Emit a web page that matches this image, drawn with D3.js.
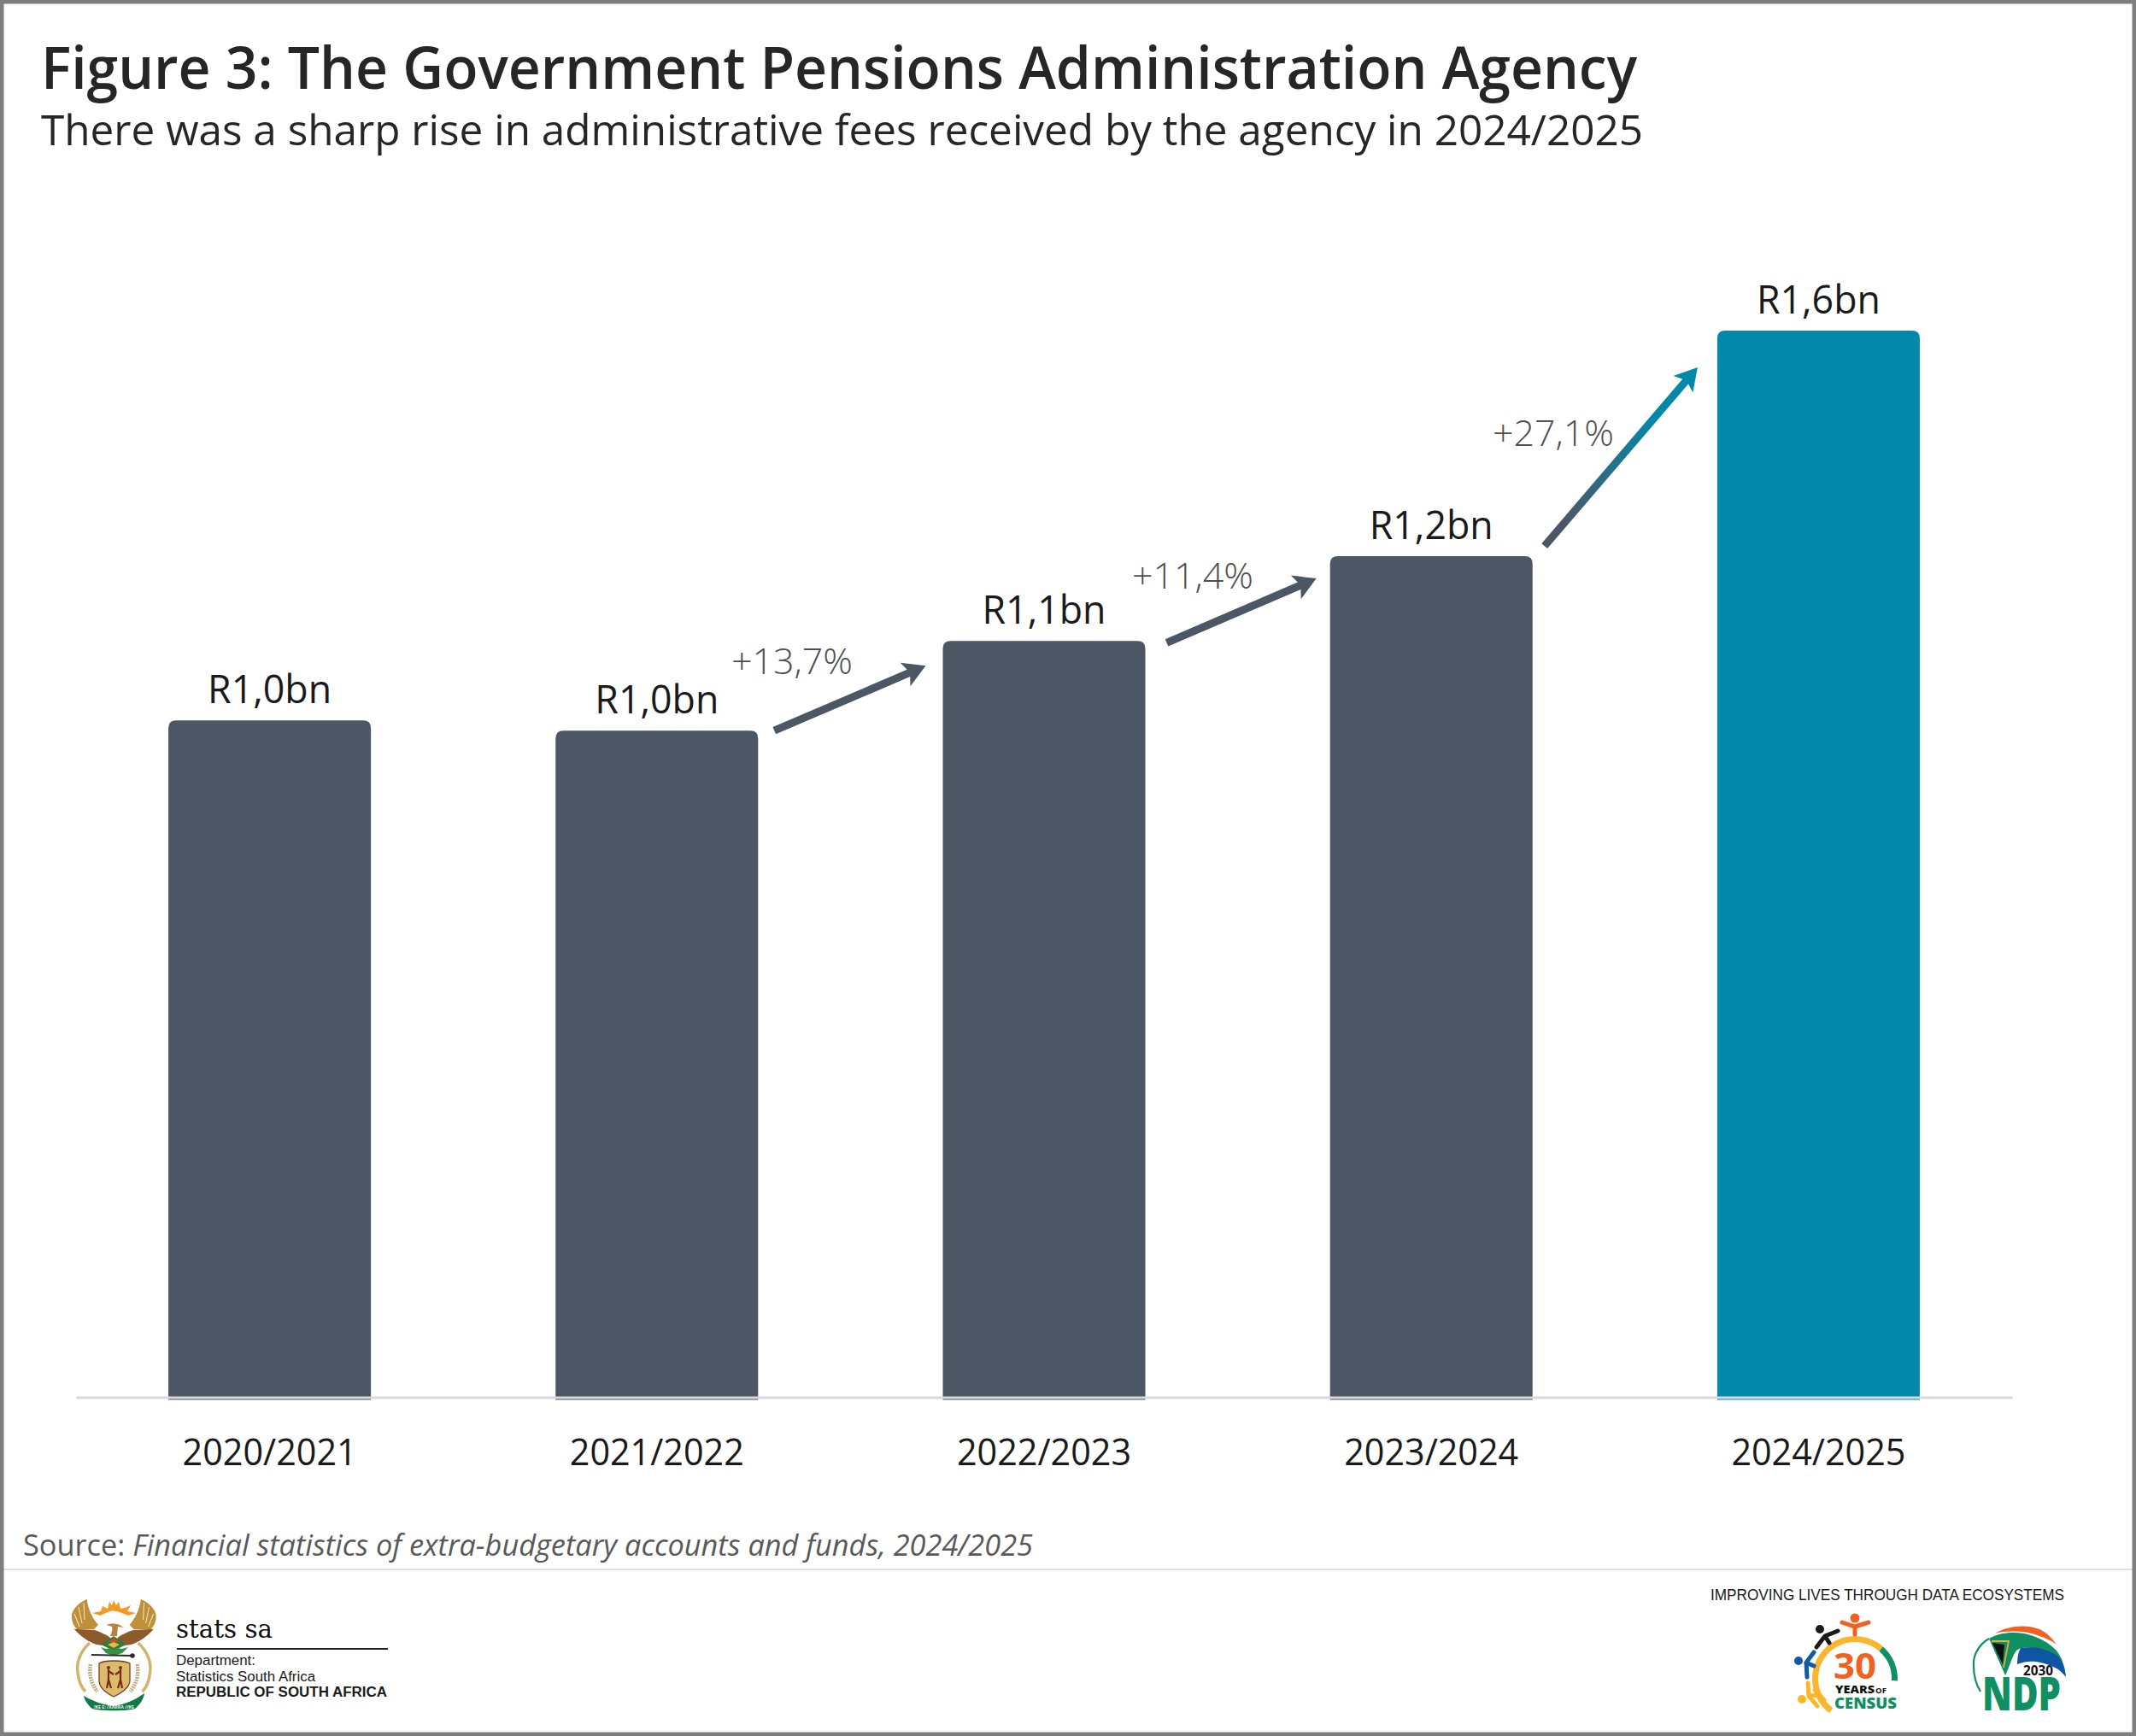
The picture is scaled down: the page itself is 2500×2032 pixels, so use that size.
<!DOCTYPE html>
<html>
<head>
<meta charset="utf-8">
<script src="https://d3js.org/d3.v7.min.js"></script>
<style>
  body { margin: 0; background: #fff; }
  svg { display: block; }
  text { font-family: "Open Sans", sans-serif; }
</style>
</head>
<body>
<div id="chart"></div>
<script>
// values (R billion)
var years = ["2020/2021", "2021/2022", "2022/2023", "2023/2024", "2024/2025"];
var fees = [0.99, 0.975, 1.106, 1.23, 1.56];
var feeLabels = ["R1,0bn", "R1,0bn", "R1,1bn", "R1,2bn", "R1,6bn"];
var changeLabels = ["+13,7%", "+11,4%", "+27,1%"];

var width = 2500, height = 2032;
var grey = "#4d5665", teal = "#0289a9";

var svg = d3.select("#chart").append("svg")
    .attr("width", width)
    .attr("height", height);

svg.append("rect").attr("width", width).attr("height", height).attr("fill", "#fff");

// stretch text so it fills the same width as in the original
function fit(sel, w) {
    return sel.attr("textLength", w).attr("lengthAdjust", "spacingAndGlyphs");
}

// title block
fit(svg.append("text").attr("x", 48).attr("y", 103.5)
    .attr("font-size", 68).attr("font-weight", 600).attr("fill", "#262626")
    .text("Figure 3: The Government Pensions Administration Agency"), 1868);
fit(svg.append("text").attr("x", 48).attr("y", 170)
    .attr("font-size", 50).attr("fill", "#262626")
    .text("There was a sharp rise in administrative fees received by the agency in 2024/2025"), 1875);

// scales
var x = d3.scaleBand().domain(years).range([89, 2355]).paddingInner(0.477).paddingOuter(0.2385);
var y = d3.scaleLinear().domain([0, 1.56]).range([1635.5, 387]);

function barPath(d, i) {
    var l = x(years[i]), r = l + x.bandwidth(), t = y(d), b = y(0) + 3, c = 9;
    return "M" + l + "," + b + "V" + (t + c) + "Q" + l + "," + t + " " + (l + c) + "," + t +
        "H" + (r - c) + "Q" + r + "," + t + " " + r + "," + (t + c) + "V" + b + "Z";
}

svg.append("g").selectAll("path").data(fees).enter().append("path")
    .attr("d", barPath)
    .attr("fill", function(d, i) { return i === 4 ? teal : grey; });

// value labels
svg.append("g").selectAll("text").data(fees).enter().append("text")
    .attr("x", function(d, i) { return x(years[i]) + x.bandwidth() / 2; })
    .attr("y", function(d) { return y(d) - 20.5; })
    .attr("text-anchor", "middle")
    .attr("font-size", 46)
    .attr("fill", "#1a1a1a")
    .attr("textLength", 145)
    .attr("lengthAdjust", "spacingAndGlyphs")
    .text(function(d, i) { return feeLabels[i]; });

// axis
var axis = svg.append("g")
    .attr("transform", "translate(0,1635.5)")
    .call(d3.axisBottom(x).tickSize(0).tickPadding(48.5).tickSizeOuter(0));
axis.select(".domain").attr("stroke", "#d8d8dd").attr("stroke-width", 3);
axis.selectAll("text")
    .attr("font-size", 43)
    .attr("fill", "#1a1a1a")
    .attr("font-family", '"Open Sans", sans-serif')
    .attr("textLength", 204)
    .attr("lengthAdjust", "spacingAndGlyphs");

// growth arrows, tied to the bars they join
var defs = svg.append("defs");
var grad = defs.append("linearGradient").attr("id", "arrowGrad")
    .attr("gradientUnits", "userSpaceOnUse")
    .attr("x1", 1809).attr("y1", 639).attr("x2", 1987).attr("y2", 430);
grad.append("stop").attr("offset", "0.12").attr("stop-color", grey);
grad.append("stop").attr("offset", "0.72").attr("stop-color", teal);

var arrowFrom = [1, 2, 3];
var fromOffset = [[19, 0], [25, 2], [14, -12]];
var toOffset = [[-20, 29], [-16, 26], [-23, 43]];
var labelPos = [[856, 788.5], [1325, 688.5], [1747, 521.5]];

arrowFrom.forEach(function(b, i) {
    var x0 = x(years[b]) + x.bandwidth() + fromOffset[i][0],
        y0 = y(fees[b]) + fromOffset[i][1],
        x1 = x(years[b + 1]) + toOffset[i][0],
        y1 = y(fees[b + 1]) + toOffset[i][1],
        a = Math.atan2(y1 - y0, x1 - x0),
        len = 26, hw = 15, notch = 20,
        ca = Math.cos(a), sa = Math.sin(a);
    var paint = i === 2 ? "url(#arrowGrad)" : grey;
    var headPaint = i === 2 ? teal : grey;
    svg.append("line")
        .attr("x1", x0).attr("y1", y0)
        .attr("x2", x1 - notch * ca).attr("y2", y1 - notch * sa)
        .attr("stroke", paint).attr("stroke-width", 9);
    var pts = [
        [x1, y1],
        [x1 - len * ca + hw * sa, y1 - len * sa - hw * ca],
        [x1 - notch * ca, y1 - notch * sa],
        [x1 - len * ca - hw * sa, y1 - len * sa + hw * ca]
    ];
    svg.append("polygon").attr("points", pts.join(" ")).attr("fill", headPaint);
    svg.append("text")
        .attr("x", labelPos[i][0]).attr("y", labelPos[i][1])
        .attr("font-size", 42).attr("font-weight", 300).attr("fill", "#4f4f4f")
        .attr("textLength", 142).attr("lengthAdjust", "spacingAndGlyphs")
        .text(changeLabels[i]);
});

// source + footer rule
var source = svg.append("text").attr("x", 27).attr("y", 1821)
    .attr("font-size", 34).attr("fill", "#595959");
source.append("tspan").text("Source: ");
source.append("tspan").attr("font-style", "italic").text("Financial statistics of extra-budgetary accounts and funds, 2024/2025");
fit(source, 1182);

svg.append("line").attr("x1", 4).attr("x2", width - 4).attr("y1", 1837).attr("y2", 1837)
    .attr("stroke", "#e0e0e0").attr("stroke-width", 2);

// coat of arms
var arms = svg.append("g");
function mirror(g) { return g.attr("transform", "translate(266.6,0) scale(-1,1)"); }
[arms.append("g"), mirror(arms.append("g"))].forEach(function(w) {
    // upper wing with feather cuts
    w.append("path").attr("d", "M101.7,1871.7C90,1877 83,1886 84,1893C84,1899 87,1904 90,1907L110,1907L115,1902C109,1895 103,1884 101.7,1871.7Z").attr("fill", "#c08f3a");
    w.append("path").attr("d", "M98,1876L99,1896M92,1881L96,1900M87,1889L93,1904").attr("stroke", "#f1e2bd").attr("stroke-width", 1.1).attr("fill", "none");
    // lower wing
    w.append("path").attr("d", "M86.7,1906.7L110,1908C118,1910 125,1914 129,1917L129,1927L113,1925C104,1922 94,1915 86.7,1906.7Z").attr("fill", "#8f5a2b");
    // tusks
    w.append("path").attr("d", "M105,1923C94,1933 89,1946 91,1958C92,1967 95,1975 100,1980").attr("stroke", "#d2b56c").attr("stroke-width", 3.5).attr("fill", "none");
    // wheat
    w.append("path").attr("d", "M106,1948C104,1958 106,1970 114,1980").attr("stroke", "#bfae84").attr("stroke-width", 4.5).attr("stroke-dasharray", "2 1").attr("fill", "none");
});
arms.append("path")
    .attr("d", "M108,1888L118,1886L120,1880L126,1883L128,1875L131,1879L133,1873L136,1879L139,1875L141,1883L146,1882L153,1879L149,1886L159,1888L150,1891L140,1887C135,1885 130,1885 126,1887L117,1891Z")
    .attr("fill", "#f39a25");
arms.append("path").attr("d", "M125,1902C128,1900 135,1900 140,1902L145,1905L138,1904L137,1915L129,1915C131,1910 132,1906 131,1904Z").attr("fill", "#b8843f");
arms.append("path").attr("d", "M133,1915L148,1925L133,1932L118,1925Z").attr("fill", "#2f7d3a");
arms.append("path").attr("d", "M133,1917L139,1922L127,1922Z").attr("fill", "#d9452b");
arms.append("path").attr("d", "M126,1925L133,1922L140,1925L133,1929Z").attr("fill", "#e8b93b");
arms.append("path").attr("d", "M118,1928L124,1930L129,1929L133,1931L138,1929L143,1930L150,1928L143,1935L133,1938L124,1935Z").attr("fill", "#3d8b45");
arms.append("line").attr("x1", 107).attr("y1", 1937).attr("x2", 155).attr("y2", 1938).attr("stroke", "#2a2a2a").attr("stroke-width", 2);
arms.append("circle").attr("cx", 155).attr("cy", 1938).attr("r", 2.8).attr("fill", "#2a2a2a");
arms.append("path").attr("d", "M116,1947C122,1943 144,1943 152,1947L152,1967C152,1975 142,1982 133,1986C125,1982 116,1975 116,1967Z")
    .attr("fill", "#dcbc6c").attr("stroke", "#7a3b1f").attr("stroke-width", 1.3);
[127, 141].forEach(function(cx) {
    arms.append("circle").attr("cx", cx).attr("cy", 1952).attr("r", 2).attr("fill", "#7a2a1b");
    arms.append("path").attr("d", "M" + cx + ",1954V1966L" + (cx + (cx < 134 ? 3 : -3)) + ",1976M" + cx + ",1966L" + (cx + (cx < 134 ? -2 : 2)) + ",1976M" + cx + ",1956L" + (cx < 134 ? cx + 6 : cx - 6) + ",1960")
        .attr("stroke", "#7a2a1b").attr("stroke-width", 2.2).attr("fill", "none");
});
arms.append("path").attr("d", "M98,1985C110,1992 120,1995 133,1997C146,1995 158,1990 169,1982C168,1990 162,1997 158,2000C150,2003 116,2003 108,2000C103,1996 99,1990 98,1985Z").attr("fill", "#0f7a43");
fit(svg.append("text").attr("x", 110).attr("y", 2000).attr("font-size", 6).attr("font-weight", 700).attr("fill", "#e9f3ea")
    .text("!KE E: /XARRA //KE"), 47);

// stats sa wordmark
fit(svg.append("text").attr("x", 206).attr("y", 1917).attr("font-size", 30).attr("fill", "#111")
    .attr("style", 'font-family:"DejaVu Serif",serif')
    .text("stats sa"), 113);
svg.append("line").attr("x1", 207).attr("x2", 454).attr("y1", 1930).attr("y2", 1930)
    .attr("stroke", "#222").attr("stroke-width", 2);
var deptLines = [["Department:", 1949, 400, 93], ["Statistics South Africa", 1968, 400, 163], ["REPUBLIC OF SOUTH AFRICA", 1986, 700, 247]];
deptLines.forEach(function(d) {
    fit(svg.append("text").attr("x", 206).attr("y", d[1]).attr("font-size", 16)
        .attr("font-weight", d[2]).attr("fill", "#1a1a1a")
        .attr("style", 'font-family:"Liberation Sans",sans-serif').text(d[0]), d[3]);
});

// tagline
fit(svg.append("text").attr("x", 2002).attr("y", 1873).attr("font-size", 17.5).attr("fill", "#1a1a1a")
    .attr("style", 'font-family:"Liberation Sans",sans-serif')
    .text("IMPROVING LIVES THROUGH DATA ECOSYSTEMS"), 414);

// 30 years of census logo
var cen = svg.append("g").attr("fill", "none").attr("stroke-linecap", "round");
var arcGen = d3.arc().innerRadius(43).outerRadius(50);
var cenCentre = "translate(2171,1965)";
cen.append("path").attr("transform", cenCentre).attr("fill", "#fbb62c")
    .attr("d", arcGen({ startAngle: -2.5, endAngle: 0.72 }));
cen.append("path").attr("transform", cenCentre).attr("fill", "#0f8f62")
    .attr("d", arcGen({ startAngle: 0.72, endAngle: 1.62 }));
cen.append("circle").attr("cx", 2171).attr("cy", 1894).attr("r", 5.5).attr("fill", "#f26122");
cen.append("path").attr("d", "M2156,1899L2171,1904L2187,1899M2171,1904V1913").attr("stroke", "#f26122").attr("stroke-width", 5);
cen.append("circle").attr("cx", 2130).attr("cy", 1907).attr("r", 5).attr("fill", "#1a1a1a");
cen.append("path").attr("d", "M2151,1909L2136,1915L2126,1928M2136,1915L2141,1923").attr("stroke", "#1a1a1a").attr("stroke-width", 5);
cen.append("circle").attr("cx", 2105).attr("cy", 1944).attr("r", 5).attr("fill", "#0f5aa8");
cen.append("path").attr("d", "M2123,1934L2114,1946L2115,1963M2114,1946L2123,1950").attr("stroke", "#0f5aa8").attr("stroke-width", 5);
cen.append("circle").attr("cx", 2109).attr("cy", 1989).attr("r", 5).attr("fill", "#fbb62c");
cen.append("path").attr("d", "M2116,1970L2117,1985L2127,1997M2117,1985L2130,1984M2124,1978L2135,1990").attr("stroke", "#fbb62c").attr("stroke-width", 5);
fit(svg.append("text").attr("x", 2146).attr("y", 1965).attr("font-size", 42).attr("font-weight", 700).attr("fill", "#f26122").text("30"), 50);
fit(svg.append("text").attr("x", 2148).attr("y", 1982).attr("font-size", 13).attr("font-weight", 800).attr("fill", "#111").text("YEARS"), 46);
fit(svg.append("text").attr("x", 2195).attr("y", 1982).attr("font-size", 9).attr("font-weight", 700).attr("fill", "#111").text("OF"), 13);
fit(svg.append("text").attr("x", 2147).attr("y", 2000).attr("font-size", 18).attr("font-weight", 800).attr("fill", "#0f8f62").text("CENSUS"), 73);

// NDP 2030 logo
var ndp = svg.append("g");
ndp.append("path").attr("d", "M2335,1912C2350,1903 2370,1901 2387,1907C2396,1911 2402,1918 2407,1925C2400,1920 2394,1917 2387,1915C2372,1909 2352,1908 2335,1912Z").attr("fill", "#f26122");
ndp.append("path").attr("d", "M2328,1918C2338,1912 2348,1911 2357,1911C2372,1911 2380,1915 2387,1918C2396,1922 2402,1927 2407,1932C2413,1940 2417,1951 2418,1962C2410,1944 2395,1932 2380,1929C2372,1928 2364,1928 2360,1932C2354,1940 2352,1952 2347,1961Z").attr("fill", "#0f8f62");
ndp.append("path").attr("d", "M2365,1929C2375,1928 2384,1928 2390,1930C2400,1933 2406,1936 2410,1940C2415,1947 2417,1956 2418,1963C2414,1958 2410,1954 2405,1952C2398,1948 2390,1946 2383,1945C2376,1944 2368,1945 2361,1948C2361,1941 2362,1934 2365,1929Z").attr("fill", "#0f55a3");
ndp.append("path").attr("d", "M2332,1923L2346,1925L2344,1948Z").attr("fill", "#111");
ndp.append("path").attr("d", "M2331,1921L2351,1921L2345,1952").attr("fill", "none").attr("stroke", "#e3ae3a").attr("stroke-width", 1.8);
ndp.append("path").attr("d", "M2328,1918C2314,1926 2309,1940 2310,1950C2310,1962 2313,1972 2318,1980").attr("fill", "none").attr("stroke", "#0f8f62").attr("stroke-width", 2.2);
fit(svg.append("text").attr("x", 2368).attr("y", 1961).attr("font-size", 16).attr("font-weight", 700).attr("fill", "#111").text("2030"), 35);
fit(svg.append("text").attr("x", 2320).attr("y", 2002).attr("font-size", 54).attr("font-weight", 800).attr("fill", "#0f8f62").text("NDP"), 92);

// frame
svg.append("rect").attr("x", 2).attr("y", 2).attr("width", width - 4).attr("height", height - 4)
    .attr("fill", "none").attr("stroke", "#7f7f7f").attr("stroke-width", 5);
</script>
</body>
</html>
